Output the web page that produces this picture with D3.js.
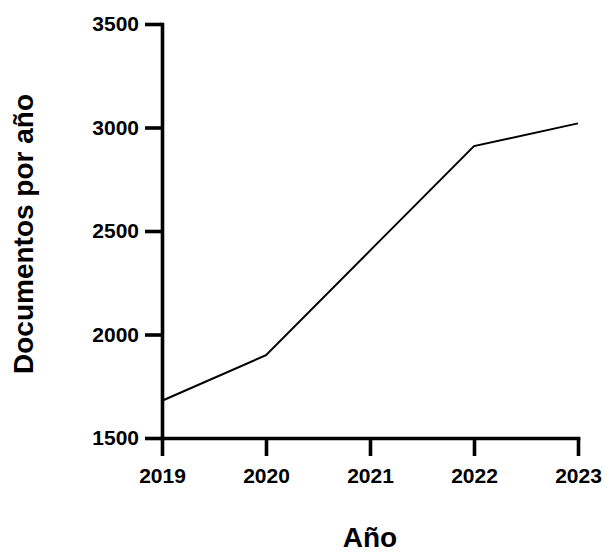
<!DOCTYPE html>
<html>
<head>
<meta charset="utf-8">
<script src="https://cdn.jsdelivr.net/npm/d3@7"></script>
<style>
  html, body { margin: 0; padding: 0; background: #fff; }
  svg { display: block; font-family: "Liberation Sans", Arial, sans-serif; }
</style>
</head>
<body>
<svg id="chart" width="605" height="554"></svg>
<script>
// Documents published per year
const years = [2019, 2020, 2021, 2022, 2023];
const documents = [1680, 1900, 2405, 2910, 3020];
const yTicks = [1500, 2000, 2500, 3000, 3500];

const svg = d3.select("#chart");

const x = d3.scaleLinear().domain([2019, 2023]).range([162, 578]);
const y = d3.scaleLinear().domain([1500, 3500]).range([438, 24]);

// Y axis
const yAxis = svg.append("g")
  .attr("transform", "translate(162,0)")
  .call(d3.axisLeft(y).tickValues(yTicks).tickFormat(d3.format("d"))
    .tickSize(17).tickSizeOuter(0).tickPadding(6));

// X axis
const xAxis = svg.append("g")
  .attr("transform", "translate(0,438)")
  .call(d3.axisBottom(x).tickValues(years).tickFormat(d3.format("d"))
    .tickSize(18).tickSizeOuter(0).tickPadding(12));

[yAxis, xAxis].forEach(g => {
  g.select(".domain").attr("stroke", "#000").attr("stroke-width", 3.6).attr("stroke-linecap", "square");
  g.selectAll(".tick line").attr("stroke", "#000").attr("stroke-width", 3.6);
  g.selectAll(".tick text")
    .attr("fill", "#000")
    .style("font-family", "'Liberation Sans', Arial, sans-serif")
    .style("font-size", "21px")
    .style("font-weight", "bold");
});

// Data line
const line = d3.line()
  .x((d, i) => x(years[i]))
  .y(d => y(d));

svg.append("path")
  .datum(documents)
  .attr("fill", "none")
  .attr("stroke", "#000")
  .attr("stroke-width", 2)
  .attr("stroke-linejoin", "miter")
  .attr("d", line);

// Axis titles
svg.append("text")
  .attr("x", 370)
  .attr("y", 547)
  .attr("text-anchor", "middle")
  .style("font-size", "28px")
  .style("font-weight", "bold")
  .text("Año");

svg.append("text")
  .attr("transform", "translate(33,234) rotate(-90)")
  .attr("text-anchor", "middle")
  .style("font-size", "28px")
  .style("font-weight", "bold")
  .text("Documentos por año");
</script>
</body>
</html>
